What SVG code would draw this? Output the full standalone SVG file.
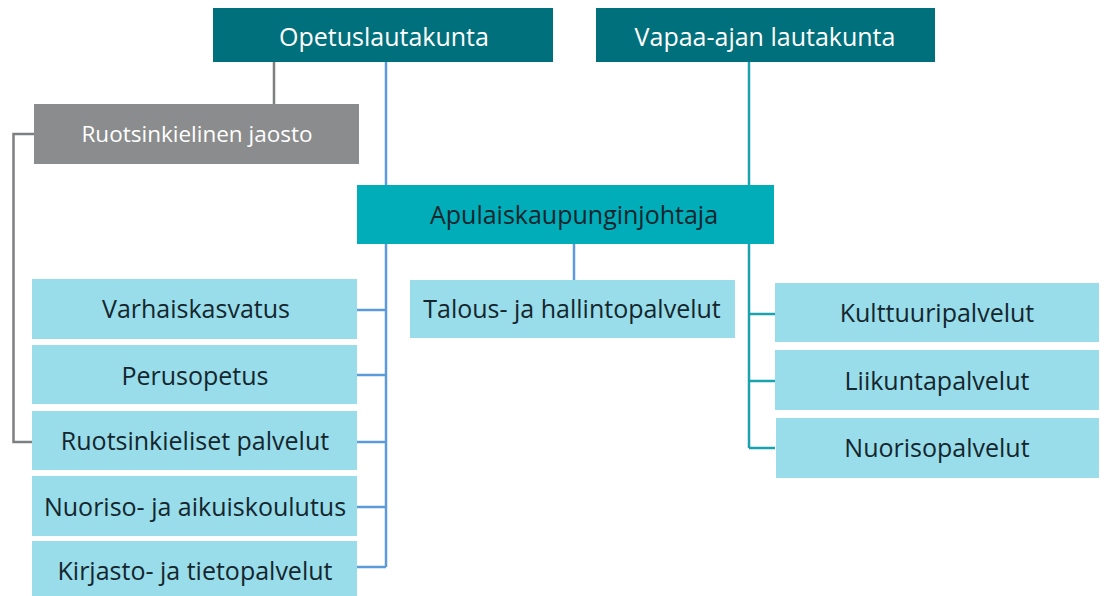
<svg xmlns="http://www.w3.org/2000/svg" width="1108" height="596" viewBox="0 0 1108 596">
<style>
.t{font-family:"Open Sans","Liberation Sans",sans-serif;font-size:25px;text-anchor:middle;dominant-baseline:central}
.s{font-size:22.5px}
.w{fill:#ffffff}
.d{fill:#15262e}
.dark{fill:#00707c}
.mid{fill:#00adb8}
.lt{fill:#98dde9}
.gr{fill:#8a8c8d}
.cb{stroke:#5d9bd8;stroke-width:2.5;fill:none}
.ct{stroke:#1aa3ae;stroke-width:2.5;fill:none}
.cg{stroke:#7d7f80;stroke-width:2.5;fill:none}
</style>
<rect width="1108" height="596" fill="#ffffff"/>
<g id="connectors">
<path class="cg" d="M274 62V104"/>
<path class="cg" d="M34 134H13.5V442H32"/>
<path class="cb" d="M386 62V185"/>
<path class="cb" d="M386 244V567"/>
<path class="cb" d="M357 310H386M357 375H386M357 442H386M357 507H386M357 567H386"/>
<path class="cb" d="M574 244V280"/>
<path class="ct" d="M749 62V185"/>
<path class="ct" d="M749 244V448"/>
<path class="ct" d="M749 314H775M749 381H775M749 448H775"/>
</g>
<g id="opetuslautakunta"><rect class="dark" x="213" y="8" width="340" height="54"/><text class="t w" x="384" y="36">Opetuslautakunta</text></g>
<g id="vapaa-ajan"><rect class="dark" x="596" y="8" width="339" height="54"/><text class="t w" x="765" y="36">Vapaa-ajan lautakunta</text></g>
<g id="ruotsinkielinen-jaosto"><rect class="gr" x="34" y="104" width="325" height="60"/><text class="t s w" x="197" y="133">Ruotsinkielinen jaosto</text></g>
<g id="apulais"><rect class="mid" x="357" y="185" width="417" height="59"/><text class="t d" x="574" y="214">Apulaiskaupunginjohtaja</text></g>
<g id="varhaiskasvatus"><rect class="lt" x="32" y="279" width="325" height="60"/><text class="t d" x="196" y="308">Varhaiskasvatus</text></g>
<g id="perusopetus"><rect class="lt" x="32" y="345" width="325" height="59"/><text class="t d" x="195" y="375">Perusopetus</text></g>
<g id="ruotsinkieliset"><rect class="lt" x="32" y="411" width="325" height="59"/><text class="t d" x="195" y="440">Ruotsinkieliset palvelut</text></g>
<g id="nuoriso-aikuis"><rect class="lt" x="32" y="476" width="325" height="60"/><text class="t d" x="195" y="506">Nuoriso- ja aikuiskoulutus</text></g>
<g id="kirjasto"><rect class="lt" x="32" y="541" width="325" height="55"/><text class="t d" x="195" y="570">Kirjasto- ja tietopalvelut</text></g>
<g id="talous"><rect class="lt" x="410" y="280" width="325" height="58"/><text class="t d" x="572" y="308">Talous- ja hallintopalvelut</text></g>
<g id="kulttuuri"><rect class="lt" x="775" y="283" width="324" height="59"/><text class="t d" x="937" y="312">Kulttuuripalvelut</text></g>
<g id="liikunta"><rect class="lt" x="775" y="350" width="324" height="60"/><text class="t d" x="937" y="380">Liikuntapalvelut</text></g>
<g id="nuorisopalvelut"><rect class="lt" x="776" y="418" width="323" height="60"/><text class="t d" x="937" y="447">Nuorisopalvelut</text></g>
</svg>
